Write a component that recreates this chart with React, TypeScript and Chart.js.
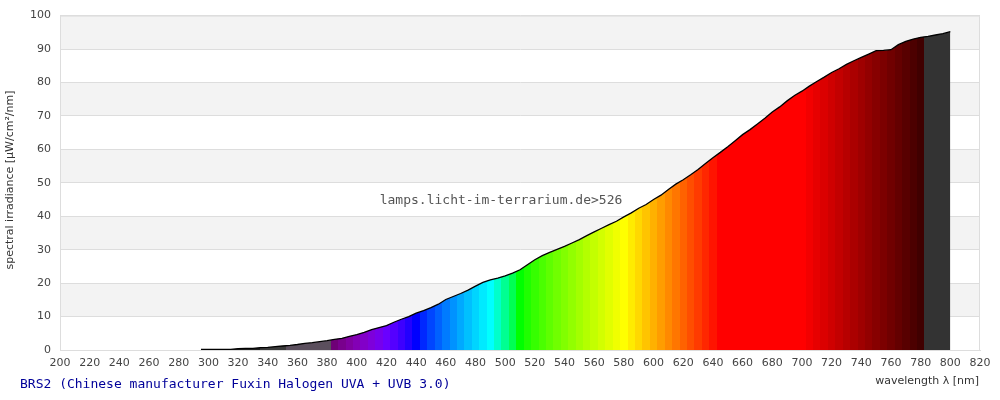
import React, { useEffect, useRef } from "react";
import { Chart, registerables } from "chart.js";

Chart.register(...registerables);

const wavelengths = [
  295, 300, 305, 310, 315, 320, 325, 330, 335, 340, 345, 350, 355, 360, 365, 370, 375, 380, 385, 390,
  395, 400, 405, 410, 415, 420, 425, 430, 435, 440, 445, 450, 455, 460, 465, 470, 475, 480, 485, 490,
  495, 500, 505, 510, 515, 520, 525, 530, 535, 540, 545, 550, 555, 560, 565, 570, 575, 580, 585, 590,
  595, 600, 605, 610, 615, 620, 625, 630, 635, 640, 645, 650, 655, 660, 665, 670, 675, 680, 685, 690,
  695, 700, 705, 710, 715, 720, 725, 730, 735, 740, 745, 750, 755, 760, 765, 770, 775, 780, 785, 790,
  795, 800,
];

const irradiance = [
  0.2, 0.2, 0.2, 0.2, 0.2, 0.4, 0.5, 0.5, 0.7, 0.8, 1.0, 1.2, 1.4, 1.65, 2.0, 2.2, 2.5, 2.8, 3.2, 3.5,
  4.1, 4.6, 5.3, 6.1, 6.7, 7.3, 8.3, 9.2, 10.0, 11.0, 11.8, 12.7, 13.7, 15.1, 16.0, 16.9, 17.9, 19.1, 20.2, 21.0,
  21.5, 22.2, 23.0, 24.0, 25.5, 27.0, 28.2, 29.2, 30.1, 31.0, 32.0, 33.0, 34.2, 35.3, 36.4, 37.5, 38.5, 39.8, 41.0, 42.4,
  43.5, 45.0, 46.3, 48.0, 49.6, 50.9, 52.4, 54.0, 55.8, 57.5, 59.1, 60.8, 62.6, 64.4, 65.9, 67.6, 69.3, 71.2, 72.7, 74.5,
  76.1, 77.4, 78.9, 80.3, 81.6, 83.0, 84.1, 85.4, 86.5, 87.5, 88.5, 89.5, 89.6, 89.8, 91.3, 92.3, 93.0, 93.5, 93.8, 94.2,
  94.6, 95.2,
];

const X_MIN = 200;
const X_MAX = 820;
const Y_MIN = 0;
const Y_MAX = 100;

const TITLE = "BRS2 (Chinese manufacturer Fuxin Halogen UVA + UVB 3.0)";
const WATERMARK = "lamps.licht-im-terrarium.de>526";
const X_TITLE = "wavelength \u03bb [nm]";
const Y_TITLE = "spectral irradiance [\u00b5W/cm\u00b2/nm]";

// colour of a visible wavelength (Bruton-style)
function spectralColor(w: number): string {
  let r = 0, g = 0, b = 0;
  if (w < 440) { r = (440 - w) / 60; b = 1; }
  else if (w < 490) { g = (w - 440) / 50; b = 1; }
  else if (w < 510) { g = 1; b = (510 - w) / 20; }
  else if (w < 580) { r = (w - 510) / 70; g = 1; }
  else if (w < 645) { r = 1; g = (645 - w) / 65; }
  else { r = 1; }
  let f = 1;
  let gamma = 0.8;
  if (w < 420) f = 0.3 + (0.7 * (w - 380)) / 40;
  if (w > 580) gamma = 1;
  if (w > 700) f = 0.25 + (0.75 * (780 - w)) / 80;
  const c = (v: number) => Math.round(255 * Math.pow(Math.max(0, v * f), gamma));
  return `rgb(${c(r)},${c(g)},${c(b)})`;
}

function buildBands() {
  const bands: { from: number; to: number; color: string }[] = [];
  bands.push({ from: X_MIN, to: 335, color: "#1e1e1e" });
  bands.push({ from: 335, to: 352, color: "#3a3a3a" });
  bands.push({ from: 352, to: 382.5, color: "#5b4f5d" });
  for (let a = 382.5; a < 782; a += 5) {
    bands.push({ from: a, to: a + 5, color: spectralColor(a + 2.5) });
  }
  bands.push({ from: 782.5, to: X_MAX, color: "#333333" });
  return bands;
}

const bandsPlugin = {
  id: "bands",
  beforeDraw(chart: any) {
    const { ctx, chartArea } = chart;
    const ys = chart.scales.y;
    ctx.save();
    ctx.fillStyle = "#ffffff";
    ctx.fillRect(0, 0, chart.width, chart.height);
    ctx.fillStyle = "#f3f3f3";
    for (let v = 10; v < Y_MAX; v += 20) {
      const top = ys.getPixelForValue(v + 10);
      const bot = ys.getPixelForValue(v);
      ctx.fillRect(chartArea.left, top, chartArea.right - chartArea.left, bot - top);
    }
    ctx.restore();
  },
  afterDraw(chart: any) {
    const { ctx, chartArea } = chart;
    ctx.save();
    ctx.strokeStyle = "#dddddd";
    ctx.lineWidth = 1;
    ctx.beginPath();
    ctx.moveTo(chartArea.left + 0.5, chartArea.bottom);
    ctx.lineTo(chartArea.left + 0.5, chartArea.top + 0.5);
    ctx.lineTo(chartArea.right - 0.5, chartArea.top + 0.5);
    ctx.lineTo(chartArea.right - 0.5, chartArea.bottom);
    ctx.stroke();

    ctx.fillStyle = "#333333";
    ctx.font = "11px 'DejaVu Sans'";
    ctx.textBaseline = "middle";
    ctx.textAlign = "right";
    ctx.fillText(X_TITLE, 979, 381);

    ctx.save();
    ctx.translate(10, 180);
    ctx.rotate(-Math.PI / 2);
    ctx.textAlign = "center";
    ctx.fillText(Y_TITLE, 0, 0);
    ctx.restore();

    ctx.font = "13px 'DejaVu Sans Mono'";
    ctx.fillStyle = "#555555";
    ctx.textAlign = "center";
    ctx.fillText(WATERMARK, 501, 201);

    ctx.fillStyle = "#000099";
    ctx.textAlign = "left";
    ctx.fillText(TITLE, 20, 385);
    ctx.restore();
  },
};

export default function App() {
  const ref = useRef<HTMLCanvasElement | null>(null);

  useEffect(() => {
    document.body.style.margin = "0";
    const canvas = ref.current;
    if (!canvas) return;
    const bands = buildBands();
    const chart = new Chart(canvas, {
      type: "line",
      data: {
        datasets: [
          {
            data: wavelengths.map((w, i) => ({ x: w, y: irradiance[i] })),
            borderColor: "#000000",
            borderWidth: 1.3,
            pointRadius: 0,
            tension: 0,
            fill: "origin",
            backgroundColor: (c: any) => {
              const ch = c.chart;
              if (!ch.chartArea) return "rgba(0,0,0,0)";
              const xs = ch.scales.x;
              const x0 = xs.getPixelForValue(X_MIN);
              const x1 = xs.getPixelForValue(X_MAX);
              const grad = ch.ctx.createLinearGradient(x0, 0, x1, 0);
              const span = X_MAX - X_MIN;
              for (const b of bands) {
                const p0 = Math.min(1, Math.max(0, (b.from - X_MIN) / span));
                const p1 = Math.min(1, Math.max(0, (b.to - X_MIN) / span));
                grad.addColorStop(p0, b.color);
                grad.addColorStop(p1, b.color);
              }
              return grad;
            },
          },
        ],
      },
      options: {
        responsive: false,
        animation: false,
        layout: { padding: { top: 5, right: 20, left: 0, bottom: 0 } },
        plugins: { legend: { display: false }, tooltip: { enabled: false } },
        scales: {
          x: {
            type: "linear",
            min: X_MIN,
            max: X_MAX,
            afterFit: (s: any) => { s.height = 50; },
            ticks: {
              stepSize: 20,
              color: "#444444",
              padding: 7,
              font: { family: "'DejaVu Sans'", size: 11 },
              maxRotation: 0,
              autoSkip: false,
            },
            grid: { display: false, drawTicks: false },
            border: { display: true, color: "#dddddd" },
          },
          y: {
            min: Y_MIN,
            max: Y_MAX,
            afterFit: (s: any) => { s.width = 60; },
            ticks: {
              stepSize: 10,
              color: "#444444",
              padding: 9,
              font: { family: "'DejaVu Sans'", size: 11 },
            },
            grid: { color: "#dddddd", drawTicks: false },
            border: { display: true, color: "#dddddd" },
          },
        },
      },
      plugins: [bandsPlugin],
    });
    return () => chart.destroy();
  }, []);

  return <canvas ref={ref} width={1000} height={400} style={{ display: "block" }} />;
}
